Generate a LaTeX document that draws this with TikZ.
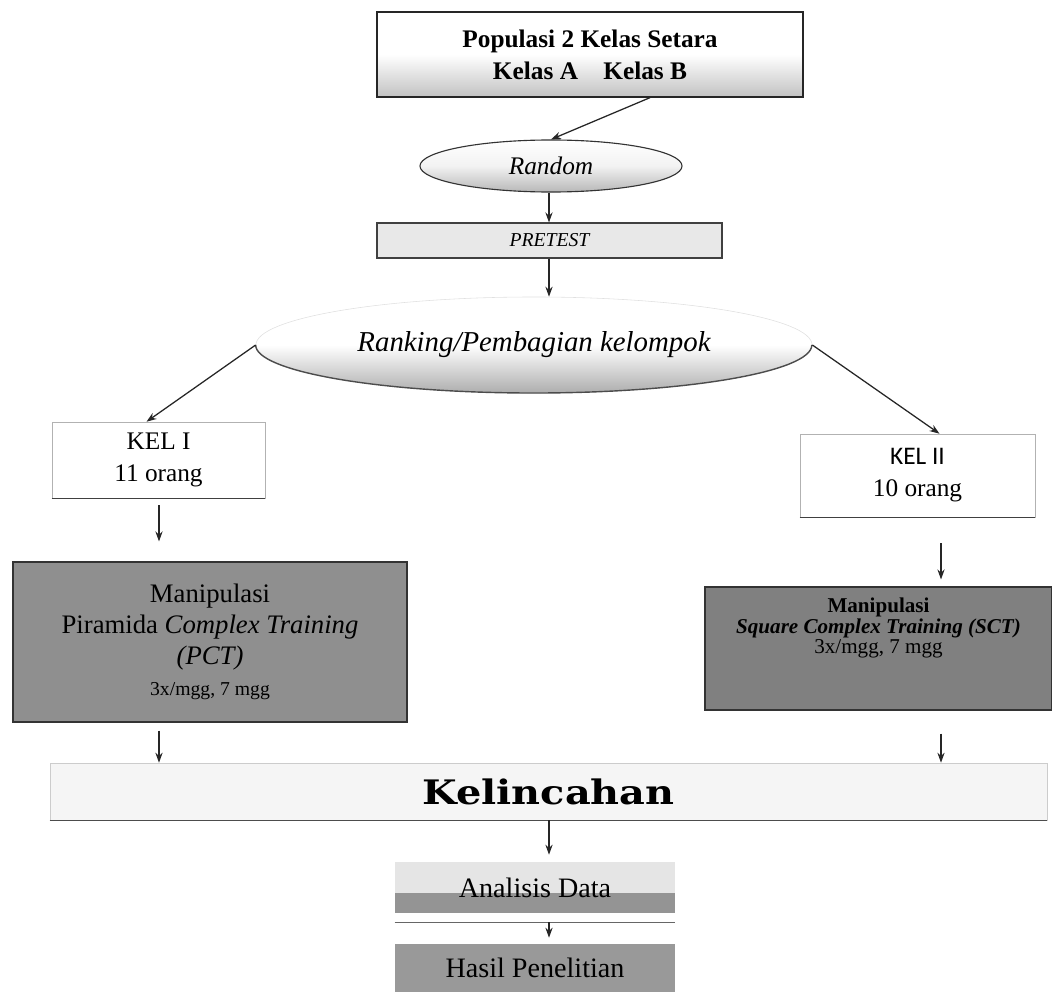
\documentclass[tikz,border=0pt]{standalone}
\usepackage{fontspec}
\setmainfont{Liberation Serif}
\newfontfamily\kelfont{Carlito}
\newfontfamily\heavyfont{DejaVu Serif}[FakeStretch=1.18]
\usepackage{tikz}
\usetikzlibrary{arrows.meta,shapes.geometric,shadings}

\begin{document}
\begin{tikzpicture}[x=0.025cm, y=-0.025cm,
    flow/.style={-{Stealth[length=2.5mm, width=1.8mm]}, line width=0.9pt, black!85},
    plainbox/.style={rectangle, inner sep=0pt, align=center},
    greybox/.style={plainbox, fill=black!44, draw=black!80, line width=0.8pt},
    ]
    \useasboundingbox ( 0, 0) rectangle (1052, 999);
    % Columns of the straight arrows
    \coordinate (lcol) at ( 159, 0);
    \coordinate (mcol) at ( 549, 0);
    \coordinate (rcol) at ( 941, 0);
    % Populasi
    \node[plainbox, draw=black!85, line width=0.9pt, top color=white, bottom color=black!24, middle color=white,
          minimum width=10.65cm, minimum height=2.125cm, font=\fontsize{18}{22.8}\selectfont\bfseries]
          (pop) at ( 590, 54.5) {Populasi 2 Kelas Setara\\Kelas A\quad Kelas B};
    % Random
    \node[ellipse, inner sep=0pt, draw=black!80, line width=0.8pt, top color=white, bottom color=black!28, middle color=black!5,
          minimum width=6.55cm, minimum height=1.3cm, font=\fontsize{18}{20}\selectfont\itshape]
          (rnd) at ( 551, 166) {Random};
    % Pretest
    \node[plainbox, draw=black!75, fill=black!9, line width=0.8pt, minimum width=8.625cm, minimum height=0.875cm,
          font=\fontsize{14}{16}\selectfont\itshape] (pre) at ( 549.5, 240.5) {PRETEST};
    % Ranking ellipse
    \node[ellipse, inner sep=0pt, draw=black!12, top color=white, bottom color=black!32, middle color=white,
          minimum width=13.9cm, minimum height=2.4cm, font=\fontsize{20.5}{24}\selectfont\itshape]
          (rank) at ( 534, 345) {Ranking/Pembagian kelompok};
    \draw[black!70, line width=1pt] (rank.west) arc[start angle=180, end angle=360, x radius=6.95cm, y radius=1.2cm];
    % Kelompok I and II
    \node[plainbox, draw=black!30, minimum width=5.325cm, minimum height=1.9cm, font=\fontsize{18}{22.8}\selectfont]
          (kel1) at ( 158.5, 460) {KEL I\\11 orang};
    \node[plainbox, draw=black!30, minimum width=5.875cm, minimum height=2.075cm, font=\fontsize{18}{22.8}\selectfont]
          (kel2) at ( 917.5, 475.5) {{\kelfont KEL II}\\10 orang};
    \draw[black!75, line width=1pt] (kel1.south west) -- (kel1.south east);
    \draw[black!75, line width=1pt] (kel2.south west) -- (kel2.south east);
    % Manipulasi PCT
    \node[greybox, minimum width=9.85cm, minimum height=4cm, font=\fontsize{19}{22}\selectfont]
          (pct) at ( 210, 642) {Manipulasi\\Piramida \textit{Complex Training}\\\textit{(PCT)}\\{\fontsize{14}{16}\selectfont 3x/mgg, 7 mgg}};
    % Manipulasi SCT
    \node[greybox, fill=black!50, minimum width=8.675cm, minimum height=3.075cm] (sct) at ( 878.5, 648.5) {};
    \node[align=center, inner sep=0pt, font=\fontsize{15}{14.5}\selectfont] (scttext) at ( 878.5, 628)
          {\textbf{Manipulasi}\\\textbf{\textit{Square Complex Training (SCT)}}\\3x/mgg, 7 mgg};
    % Kelincahan
    \node[plainbox, draw=black!20, fill=black!4, minimum width=24.925cm, minimum height=1.425cm,
          font=\heavyfont\fontsize{24}{26}\selectfont\bfseries] (kelin) at ( 548.5, 791.5) {Kelincahan};
    \draw[black!70, line width=1pt] (kelin.south west) -- (kelin.south east);
    % Analisis Data
    \node[plainbox, fill=black!10, minimum width=7cm, minimum height=1.275cm, font=\fontsize{20}{22}\selectfont,
          path picture={\fill[black!42] (path picture bounding box.south west) rectangle ([yshift=0.5cm]path picture bounding box.south east);}]
          (ana) at ( 535, 887.5) {Analisis Data};
    \draw[black!60, line width=0.8pt] ([yshift=-0.225cm]ana.south west) -- coordinate (split) ([yshift=-0.225cm]ana.south east);
    % Hasil Penelitian
    \node[plainbox, fill=black!40, minimum width=7cm, minimum height=1.2cm, font=\fontsize{20}{22}\selectfont]
          (hasil) at ( 535, 968) {Hasil Penelitian};
    % Arrows
    \draw[flow] ([xshift=1.5cm]pop.south) -- (rnd.north);
    \draw[flow] (mcol |- rnd.south) -- (mcol |- pre.north);
    \draw[flow] (mcol |- pre.south) -- (mcol |- rank.north);
    \draw[flow] (rank.west) -- ([xshift=-0.3cm]kel1.north);
    \draw[flow] (rank.east) -- ([xshift=0.55cm]kel2.north);
    \draw[flow, shorten <=0.175cm, shorten >=0.5cm] (lcol |- kel1.south) -- (lcol |- pct.north);
    \draw[flow, shorten <=0.65cm, shorten >=0.175cm] (rcol |- kel2.south) -- (rcol |- sct.north);
    \draw[flow, shorten <=0.2cm] (lcol |- pct.south) -- (lcol |- kelin.north);
    \draw[flow, shorten <=0.575cm] (rcol |- sct.south) -- (rcol |- kelin.north);
    \draw[flow, shorten >=0.175cm] (mcol |- kelin.south) -- (mcol |- ana.north);
    \draw[flow, shorten >=0.15cm] (mcol |- split) -- (mcol |- hasil.north);
\end{tikzpicture}
\end{document}
